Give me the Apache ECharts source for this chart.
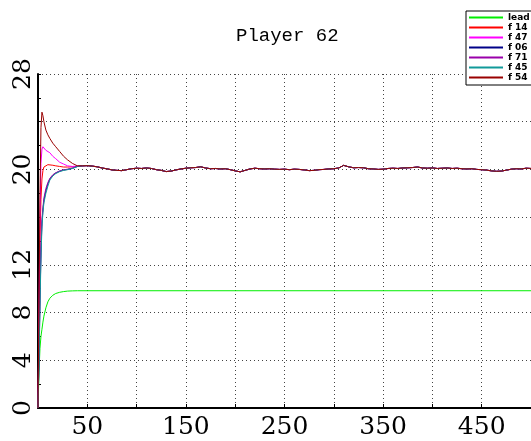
<!DOCTYPE html>
<html>
<head>
<meta charset="utf-8">
<script src="https://cdn.jsdelivr.net/npm/echarts@6/dist/echarts.min.js"></script>
<style>
  html, body { margin: 0; padding: 0; background: #fff; }
  #chart { width: 531px; height: 441px; }
</style>
</head>
<body>
<div id="chart"></div>
<script>
// time steps of the transient part (before all followers meet)
var headT = [0, 1, 2, 3, 4, 5, 6, 8, 10, 12, 15, 18, 22, 26, 30, 35, 40];

var lead = [0, 3, 5, 6, 6.6, 7.2, 7.7, 8.4, 8.9, 9.2, 9.45, 9.6, 9.7, 9.76, 9.8, 9.82, 9.83];
var leadEnd = 9.83;

var f14 = [0, 7, 14, 17.5, 19.2, 19.9, 20.2, 20.35, 20.4, 20.4, 20.35, 20.3, 20.25, 20.2, 20.2, 20.22, 20.28];
var f47 = [0, 8, 16, 20.5, 21.7, 21.9, 21.8, 21.6, 21.5, 21.4, 21.1, 20.9, 20.6, 20.45, 20.3, 20.25, 20.28];
var f06 = [0, 4, 9, 13, 15.5, 16.6, 17.4, 18.2, 18.8, 19.2, 19.5, 19.7, 19.85, 19.95, 20.0, 20.1, 20.25];
var f71 = [0, 4.5, 9.5, 13.5, 15.8, 16.8, 17.6, 18.4, 18.9, 19.25, 19.55, 19.72, 19.88, 19.97, 20.02, 20.12, 20.26];
var f45 = [0, 3.5, 8.5, 12.5, 15.2, 16.4, 17.2, 18.0, 18.6, 19.1, 19.45, 19.65, 19.82, 19.92, 19.98, 20.08, 20.24];
var f54 = [0, 9, 18, 23.5, 24.8, 24.5, 24.0, 23.3, 22.9, 22.6, 22.2, 21.9, 21.5, 21.1, 20.8, 20.5, 20.3];

// shared consensus after t=45, one value every 5 steps up to 500
var tailStart = 45, tailStep = 5;
var tail = [
  20.30, 20.32, 20.28, 20.22, 20.12, 20.05, 19.96, 19.92, 19.90, 19.98, 20.06, 20.10,
  20.08, 20.12, 20.08, 19.98, 19.92, 19.82, 19.86, 19.96, 20.04, 20.10,
  20.14, 20.16, 20.22, 20.12, 20.06, 20.08, 20.04, 20.06, 19.98, 19.88,
  19.80, 19.92, 20.04, 20.10, 20.06, 20.04, 20.06, 20.02, 20.00, 20.02,
  19.98, 20.02, 20.00, 19.96, 19.90, 19.92, 19.98, 20.00, 20.04, 20.06,
  20.12, 20.34, 20.22, 20.14, 20.16, 20.14, 20.06, 20.04, 20.00, 20.02,
  20.08, 20.10, 20.08, 20.12, 20.14, 20.16, 20.20, 20.12, 20.10, 20.12,
  20.08, 20.10, 20.12, 20.08, 20.10, 20.06, 20.04, 20.06, 20.00, 19.98,
  19.94, 19.88, 19.84, 19.86, 19.94, 20.02, 20.06, 20.04, 20.10, 20.08
];

var names = ["lead", "f 14", "f 47", "f 06", "f 71", "f 45", "f 54"];
var colors = ["#00ee00", "#ff0000", "#ff00ff", "#000088", "#9900aa", "#119999", "#990000"];
var yLabels = [0, 4, 8, 12, 20, 28];
var xLabels = [50, 150, 250, 350, 450];

function follower(head) {
    var d = [];
    for (var i = 0; i < headT.length; i++) d.push([headT[i], head[i]]);
    for (var j = 0; j < tail.length; j++) d.push([tailStart + j * tailStep, tail[j]]);
    return d;
}
function leader() {
    var d = [];
    for (var i = 0; i < headT.length; i++) d.push([headT[i], lead[i]]);
    d.push([500, leadEnd]);
    return d;
}

var seriesData = [leader(), follower(f14), follower(f47), follower(f06), follower(f71), follower(f45), follower(f54)];

var myChart = echarts.init(document.getElementById("chart"));
var tickFont = "DejaVu Serif";
var option = {
    animation: false,
    backgroundColor: "#fff",
    title: {
        text: "Player 62",
        left: 231,
        top: 21,
        textStyle: { fontFamily: "Liberation Mono", fontSize: 19, fontWeight: "normal", color: "#000" }
    },
    legend: {
        orient: "vertical",
        left: 466,
        top: 11,
        padding: [2, 3, 3, 3],
        icon: "rect",
        itemWidth: 34,
        itemHeight: 2,
        itemGap: 1,
        backgroundColor: "#fff",
        borderColor: "#000",
        borderWidth: 1,
        borderRadius: 0,
        textStyle: { fontFamily: "DejaVu Sans", fontSize: 9, fontWeight: "bold", color: "#000", lineHeight: 9 },
        data: names
    },
    grid: { left: 38, top: 74, right: -2, bottom: 33, containLabel: false },
    xAxis: {
        type: "value",
        min: 0,
        max: 500,
        interval: 50,
        axisLine: { show: true, lineStyle: { color: "#000", width: 2 } },
        axisTick: { show: true, inside: true, length: 4, lineStyle: { color: "#000" } },
        splitLine: { show: true, lineStyle: { color: "#444", type: [1, 3], width: 1 } },
        axisLabel: {
            margin: 7,
            fontFamily: tickFont,
            fontSize: 25,
            color: "#000",
            showMinLabel: false,
            showMaxLabel: false,
            formatter: function (v) { return xLabels.indexOf(v) >= 0 ? String(v) : ""; }
        }
    },
    yAxis: {
        type: "value",
        min: 0,
        max: 28,
        interval: 4,
        axisLine: { show: true, lineStyle: { color: "#000", width: 2 } },
        axisTick: { show: true, inside: true, length: 3, lineStyle: { color: "#000" } },
        minorTick: { show: true, splitNumber: 2, length: 3, lineStyle: { color: "#000" } },
        splitLine: { show: true, lineStyle: { color: "#444", type: [1, 3], width: 1 } },
        axisLabel: {
            margin: 2,
            rotate: 90,
            fontFamily: tickFont,
            fontSize: 25,
            color: "#000",
            formatter: function (v) { return yLabels.indexOf(v) >= 0 ? String(v) : ""; }
        }
    },
    series: names.map(function (n, i) {
        return {
            name: n,
            type: "line",
            data: seriesData[i],
            showSymbol: false,
            symbol: "none",
            itemStyle: { color: colors[i] },
            lineStyle: { width: 1, color: colors[i] }
        };
    })
};
option && myChart.setOption(option);
</script>
</body>
</html>
